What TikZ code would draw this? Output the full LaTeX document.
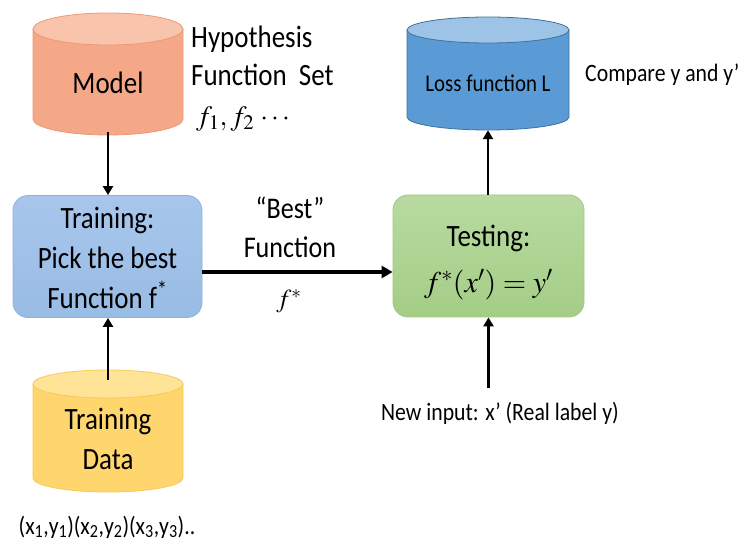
\documentclass[tikz,border=0pt]{standalone}
\usepackage{mathptmx}
\usepackage{fontspec}
\setmainfont[FakeStretch=0.87]{Carlito}
\usetikzlibrary{arrows.meta,fit}
\definecolor{mbody}{RGB}{245,168,136}
\definecolor{mtop}{RGB}{249,196,172}
\definecolor{mline}{RGB}{238,152,118}
\definecolor{dbody}{RGB}{255,214,110}
\definecolor{dtop}{RGB}{255,228,152}
\definecolor{dline}{RGB}{246,200,90}
\definecolor{lbody}{RGB}{91,155,213}
\definecolor{ltop}{RGB}{157,195,230}
\definecolor{lline}{RGB}{65,113,156}
\definecolor{btop}{RGB}{168,198,236}
\definecolor{bbot}{RGB}{152,188,228}
\definecolor{bline}{RGB}{140,178,225}
\definecolor{gtop}{RGB}{184,218,160}
\definecolor{gbot}{RGB}{164,205,134}
\definecolor{gline}{RGB}{160,200,130}
\newcommand\cylshape[8]{%
  \fill[#6] (#1-#4,#2) -- (#1-#4,#3) arc[start angle=180,end angle=360,x radius=#4,y radius=#5] -- (#1+#4,#2) -- cycle;
  \draw[#8,line width=0.8pt] (#1-#4,#2) -- (#1-#4,#3) arc[start angle=180,end angle=360,x radius=#4,y radius=#5] -- (#1+#4,#2);
  \filldraw[fill=#7,draw=#8,line width=0.8pt] (#1,#2) ellipse[x radius=#4,y radius=#5];
}
\tikzset{
  big/.style={font=\fontsize{31}{40}\selectfont, inner sep=0pt, align=center},
  mid/.style={font=\fontsize{25}{28}\selectfont, inner sep=0pt},
  arr/.style={line width=2.4pt, -{Triangle[length=9pt,width=10pt]}},
  procbox/.style={rounded corners=15pt, line width=0.8pt, minimum width=189pt, minimum height=122pt, inner sep=0pt},
  box/.style={inner sep=0pt}
}
\begin{document}
\begin{tikzpicture}[x=1pt,y=1pt]
\useasboundingbox (0,0) rectangle (739,544);
% cylinders
\cylshape{108}{515}{425}{75}{16}{mbody}{mtop}{mline}
\node[box, fit={(33,409)(183,531)}] (model) {};
\cylshape{108}{160}{66}{75}{14}{dbody}{dtop}{dline}
\node[box, fit={(33,52)(183,174)}] (tdata) {};
\cylshape{488}{514}{427}{81}{13}{lbody}{ltop}{lline}
\node[box, fit={(407,414)(569,527)}] (loss) {};
% boxes
\node[procbox, top color=btop, bottom color=bbot, draw=bline] (train) at (107.5,287.5) {};
\node[procbox, minimum width=191pt, top color=gtop, bottom color=gbot, draw=gline] (test) at (488.5,288) {};
% texts
\node[big, anchor=west, align=left, font=\fontsize{31}{38}\selectfont] (hyp) at (191,488) {Hypothesis\\Function\ \ Set};
\node[anchor=west, inner sep=0pt, font=\fontsize{28}{30}\selectfont] (fset) at (196,425) {$f_1, f_2\,\cdots$};
\node[big] (modeltxt) at (108,461) {Model};
\node[big] (traintxt) at (107.5,286) {Training:\\Pick the best\\Function f\textsuperscript{*}};
\node[big] (testtxt) at (488.5,306) {Testing:};
\node[inner sep=0pt, font=\fontsize{30}{34}\selectfont] (formula) at (488.5,259) {$f^{*}\!\left(x'\right)= y'$};
\node[big, font=\fontsize{30}{39}\selectfont] (best) at (290,317) {“Best”\\Function};
\node[inner sep=0pt, font=\fontsize{26}{30}\selectfont] (fstar) at (289,243) {$f^{*}$};
\node[big] (tdtxt) at (108,105) {Training\\Data};
\node[inner sep=0pt, font=\fontsize{24}{26}\selectfont] (losstxt) at (488,461) {Loss function L};
\node[mid, anchor=west] (cmp) at (585,469) {Compare y and y’};
\node[mid] (newin) at (500,131) {New input: x’ (Real label y)};
\node[mid] (pairs) at (107,17) {(x\textsubscript{1},y\textsubscript{1})(x\textsubscript{2},y\textsubscript{2})(x\textsubscript{3},y\textsubscript{3})..};
% connectors
\draw[arr] ([yshift=3pt]model.south) -- (model.south |- train.north);
\draw[arr] ([yshift=-10pt]tdata.north) -- (tdata.north |- train.south);
\draw[arr, line width=3.4pt, -{Triangle[length=11pt,width=12pt]}] ([yshift=-15.5pt]train.east) -- ([yshift=-15.5pt]train.east -| test.west);
\draw[arr] ([xshift=-0.5pt]test.north) -- ([xshift=-0.5pt]test.north |- loss.south);
\draw[arr] ([yshift=14pt]newin.north -| test.south) -- (test.south);
\end{tikzpicture}
\end{document}
